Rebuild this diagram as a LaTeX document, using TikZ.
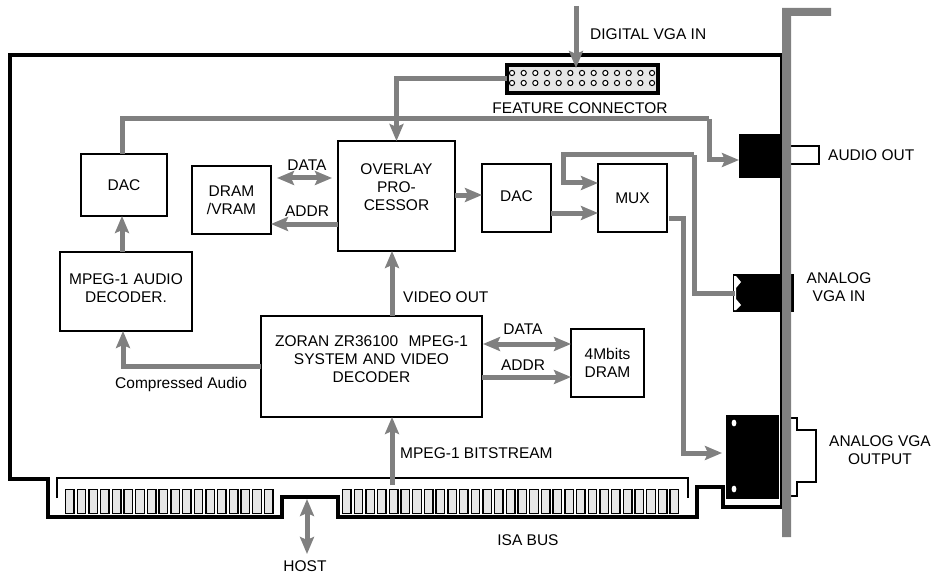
\documentclass[tikz,border=0pt]{standalone}
\usepackage{fontspec}
\setmainfont{Liberation Sans}
\usepackage{xcolor}
\usetikzlibrary{arrows.meta,positioning,calc}
\definecolor{linegray}{RGB}{128,128,128}
\definecolor{pingray}{RGB}{230,230,230}
\tikzset{
  block/.style={rectangle, draw=black, line width=1.5pt, anchor=north west, align=center,
                inner sep=0pt, outer sep=0pt, text width=#1},
  jack/.style={rectangle, draw=black, fill=black, anchor=north west, inner sep=0pt, outer sep=0pt},
  lbl/.style={font=\fontsize{15.5}{18}\selectfont, align=center, inner sep=0pt},
  board/.style={line width=3.2pt, black, line join=miter},
  garrow/.style={-{Stealth[length=17pt, width=14pt, inset=3pt]}, line width=5pt, linegray},
  gboth/.style={{Stealth[length=17pt, width=14pt, inset=3pt]}-{Stealth[length=17pt, width=14pt, inset=3pt]}, line width=5pt, linegray},
  gline/.style={line width=5pt, linegray},
  busfinger/.style={draw=black, fill=pingray, line width=1.4pt},
}
\begin{document}
\begin{tikzpicture}[x=1pt, y=-1pt]
  \useasboundingbox (0,0) rectangle (932,575);
  % card outline
  \draw[board] (782,55) -- (10,55) -- (10,479) -- (48,479) -- (48,517) -- (282,517) -- (282,497)
    -- (338,497) -- (338,517) -- (697,517) -- (697,487) -- (723,487) -- (723,507) -- (782,507);
  \draw[black, line width=3pt] (781.5,55) -- (781.5,155);
  \draw[black, line width=1.6pt] (781,155) -- (781,507);
  \draw[black, line width=1.5pt] (57,498) -- (57,478) -- (688,478) -- (688,498);
  % edge connector
  \foreach \i in {0,...,17}
    \draw[busfinger] ({65.5+\i*11.7},489.5) rectangle +(8.5,24);
  \foreach \i in {0,...,28}
    \draw[busfinger] ({342.5+\i*11.7},489.5) rectangle +(8.5,24);
  % sockets behind the bracket
  \node[jack, minimum width=60pt, minimum height=37pt] (vgain) at (733,274) {};
  \fill[white] (734,276) -- (736,276) -- (741,282) -- (736,288) -- (736,299) -- (741,305) -- (736,310) -- (734,310) -- cycle;
  \node[jack, minimum width=40pt, minimum height=43pt] (audiojack) at (739,134) {};
  \node[jack, minimum width=52pt, minimum height=83pt] (vgaout) at (726,415) {};
  \fill[white] (734,423) ellipse (2.4 and 3.4) (734,489) ellipse (2.4 and 3.4);
  \node[draw=black, line width=1.4pt, fill=white, anchor=north west, inner sep=0pt, outer sep=0pt,
        minimum width=29pt, minimum height=18pt] (audioplug) at (790,146) {};
  \draw[black, line width=1.4pt] (791,418) -- (797,418) -- (797,430) -- (816,430) -- (816,482) -- (797,482) -- (797,496) -- (791,496);
  % bracket
  \fill[linegray] (782,8) -- (831,8) -- (831,16) -- (791,16) -- (791,537) -- (782,537) -- cycle;
  % feature connector
  \node[rectangle, draw=black, line width=4pt, fill=pingray, anchor=north west, inner sep=0pt, outer sep=0pt,
        minimum width=151pt, minimum height=28pt] (feature) at (507,65) {};
  \foreach \i in {0,...,12} {
    \draw[black, fill=white, line width=1pt] ({512+\i*11.67},73) circle (2.6);
    \draw[black, fill=white, line width=1pt] ({512+\i*11.67},83) circle (2.6);
  }
  % blocks
  \node[block=86pt, minimum height=62pt, lbl] (dacaudio) at (81,154) {\raisebox{-5pt}{DAC}};
  \node[block=79pt, minimum height=68pt, lbl] (vram) at (192,166) {DRAM\\/VRAM};
  \node[block=132pt, minimum height=79pt, lbl] (audiodec) at (60,252) {MPEG-1 AUDIO\\DECODER.\\[-12pt]~};
  \node[block=117pt, minimum height=110pt, lbl] (overlay) at (338,141) {OVERLAY\\PRO-\\CESSOR\\~};
  \node[block=69pt, minimum height=68pt, lbl] (dacvideo) at (482,164) {\raisebox{4pt}{DAC}};
  \node[block=69pt, minimum height=68pt, lbl] (mux) at (598,164) {MUX};
  \node[block=221pt, minimum height=101pt, lbl] (zoran) at (261,316) {ZORAN ZR36100\ \ MPEG-1\\SYSTEM AND VIDEO\\DECODER\\[-3pt]~};
  \node[block=73pt, minimum height=68pt, lbl] (dram) at (571,329) {4Mbits\\DRAM};
  % free ends and ports
  \coordinate (digin) at (576,6);
  \coordinate (digend) at (576,68);
  \coordinate (audiotop) at (122,119);
  \coordinate (audiodrop) at (709,119);
  \coordinate (audioin) at (739,160);
  \coordinate (loopleft) at (563,155);
  \coordinate (loopright) at (694,155);
  \coordinate (muxfb) at (598,183);
  \coordinate (vgaend) at (735,293);
  \coordinate (muxout) at (669,218);
  \coordinate (muxturn) at (683,218);
  \coordinate (vgaoutin) at (722,453);
  \coordinate (busup) at (392,485);
  \coordinate (hosttop) at (307,499);
  \coordinate (hostbot) at (307,554);
  % signal paths
  \draw[garrow] (digin) -- (digend);
  \draw[garrow] (feature.west) -| (overlay.north);
  \draw[gline] (audiotop |- dacaudio.north) -- (audiotop) -- (audiodrop);
  \draw[garrow] (audiodrop) |- (audioin);
  \draw[garrow] (audiotop |- audiodec.north) -- (audiotop |- dacaudio.south);
  \draw[gboth] (vram.east |- 0,178) ++(6,0) -- ([xshift=-6pt]overlay.west |- 0,178);
  \draw[garrow] (overlay.west |- 0,224) -- (vram.east |- 0,224);
  \draw[garrow] (overlay.east |- 0,195) -- (dacvideo.west |- 0,195);
  \draw[garrow] (dacvideo.east |- 0,213) -- (mux.west |- 0,213);
  \draw[garrow] (loopright) -- (loopleft) -- (loopleft |- muxfb) -- (muxfb);
  \draw[gline] (loopright) |- (vgaend);
  \draw[garrow] (muxout) -- (muxturn) |- (vgaoutin);
  \draw[garrow] (zoran.north -| 392,0) -- (overlay.south -| 392,0);
  \draw[garrow] (zoran.west |- 0,366) -| (audiodec.south -| 123,0);
  \draw[gboth] (zoran.east |- 0,344) ++(1,0) -- (dram.west |- 0,344);
  \draw[garrow] (zoran.east |- 0,377) -- (dram.west |- 0,377);
  \draw[garrow] (busup) -- (zoran.south -| busup);
  \draw[gboth] (hosttop) -- (hostbot);
  % labels
  \node[lbl, anchor=west] (digtxt) at (590,34) {DIGITAL VGA IN};
  \node[lbl] (feattxt) at (580,108) {FEATURE CONNECTOR};
  \node[lbl] (datatop) at (307,165) {DATA};
  \node[lbl] (addrtop) at (307,211) {ADDR};
  \node[lbl, anchor=west] (videotxt) at (403,297) {VIDEO OUT};
  \node[lbl] (databot) at (523,329) {DATA};
  \node[lbl] (addrbot) at (523,365) {ADDR};
  \node[lbl, anchor=west] (comptxt) at (115,384) {Compressed Audio};
  \node[lbl, anchor=west] (bittxt) at (400,453) {MPEG-1 BITSTREAM};
  \node[lbl] (isatxt) at (528,540) {ISA BUS};
  \node[lbl] (hosttxt) at (305,566) {HOST};
  \node[lbl, anchor=west] (audiotxt) at (828,155) {AUDIO OUT};
  \node[lbl] (vgaintxt) at (839,287) {ANALOG\\VGA IN};
  \node[lbl] (vgaouttxt) at (880,450) {ANALOG VGA\\OUTPUT};
\end{tikzpicture}
\end{document}
